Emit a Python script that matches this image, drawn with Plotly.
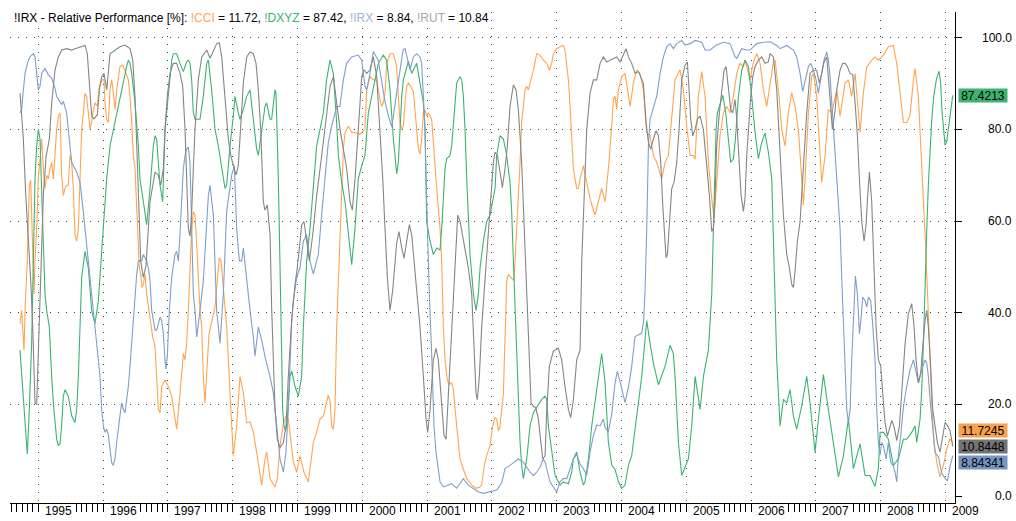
import plotly.graph_objects as go

#Datos (año decimal, valor %)
cci_t = [1994.717, 1994.743, 1994.779, 1994.800, 1994.830, 1994.861, 1994.882, 1994.897, 1994.913, 1994.933,
         1994.949, 1994.975, 1995.000, 1995.026, 1995.052, 1995.077, 1995.103, 1995.129, 1995.155, 1995.180,
         1995.206, 1995.232, 1995.257, 1995.283, 1995.309, 1995.335, 1995.360, 1995.386, 1995.412, 1995.437,
         1995.463, 1995.489, 1995.515, 1995.540, 1995.566, 1995.592, 1995.618, 1995.643, 1995.669, 1995.695,
         1995.720, 1995.746, 1995.772, 1995.798, 1995.823, 1995.849, 1995.875, 1995.911, 1995.942, 1995.983,
         1996.014, 1996.029, 1996.055, 1996.081, 1996.106, 1996.132, 1996.158, 1996.183, 1996.209, 1996.235,
         1996.260, 1996.302, 1996.338, 1996.363, 1996.389, 1996.415, 1996.441, 1996.466, 1996.492, 1996.518,
         1996.559, 1996.580, 1996.600, 1996.621, 1996.646, 1996.672, 1996.724, 1996.765, 1996.801, 1996.826,
         1996.852, 1996.878, 1996.904, 1996.955, 1997.006, 1997.058, 1997.109, 1997.135, 1997.161, 1997.186,
         1997.212, 1997.238, 1997.264, 1997.289, 1997.315, 1997.341, 1997.367, 1997.392, 1997.418, 1997.444,
         1997.469, 1997.495, 1997.521, 1997.546, 1997.572, 1997.634, 1997.726, 1997.793, 1997.819, 1997.855,
         1997.907, 1997.958, 1998.009, 1998.061, 1998.112, 1998.164, 1998.215, 1998.267, 1998.318, 1998.369,
         1998.421, 1998.447, 1998.498, 1998.524, 1998.575, 1998.652, 1998.688, 1998.730, 1998.781, 1998.822,
         1998.858, 1998.894, 1998.935, 1998.987, 1999.038, 1999.100, 1999.167, 1999.244, 1999.295, 1999.347,
         1999.398, 1999.424, 1999.475, 1999.501, 1999.527, 1999.553, 1999.578, 1999.604, 1999.630, 1999.655,
         1999.681, 1999.707, 1999.733, 1999.784, 1999.835, 1999.887, 1999.964, 2000.041, 2000.067, 2000.118,
         2000.170, 2000.221, 2000.273, 2000.299, 2000.324, 2000.350, 2000.376, 2000.427, 2000.478, 2000.530,
         2000.556, 2000.582, 2000.608, 2000.633, 2000.659, 2000.685, 2000.710, 2000.746, 2000.788, 2000.813,
         2000.839, 2000.865, 2000.890, 2000.916, 2000.942, 2000.968, 2000.993, 2001.019, 2001.070, 2001.096,
         2001.122, 2001.148, 2001.199, 2001.225, 2001.251, 2001.276, 2001.312, 2001.343, 2001.379, 2001.405,
         2001.456, 2001.508, 2001.559, 2001.611, 2001.688, 2001.755, 2001.806, 2001.842, 2001.878, 2001.919,
         2001.971, 2002.012, 2002.048, 2002.074, 2002.100, 2002.125, 2002.177, 2002.202, 2002.228, 2002.254,
         2002.290, 2002.341, 2002.372, 2002.408, 2002.434, 2002.459, 2002.485, 2002.511, 2002.537, 2002.562,
         2002.588, 2002.640, 2002.691, 2002.742, 2002.794, 2002.845, 2002.886, 2002.922, 2002.948, 2002.999,
         2003.051, 2003.102, 2003.128, 2003.154, 2003.180, 2003.206, 2003.231, 2003.257, 2003.283, 2003.308,
         2003.334, 2003.360, 2003.411, 2003.463, 2003.514, 2003.591, 2003.643, 2003.694, 2003.746, 2003.797,
         2003.849, 2003.874, 2003.900, 2003.926, 2003.952, 2004.003, 2004.054, 2004.106, 2004.132, 2004.183,
         2004.234, 2004.286, 2004.337, 2004.389, 2004.440, 2004.492, 2004.543, 2004.620, 2004.672, 2004.723,
         2004.775, 2004.826, 2004.903, 2004.955, 2005.006, 2005.058, 2005.109, 2005.135, 2005.186, 2005.237,
         2005.289, 2005.340, 2005.392, 2005.428, 2005.469, 2005.520, 2005.572, 2005.623, 2005.675, 2005.726,
         2005.778, 2005.829, 2005.881, 2005.906, 2005.958, 2005.984, 2006.035, 2006.087, 2006.138, 2006.189,
         2006.241, 2006.292, 2006.344, 2006.370, 2006.421, 2006.472, 2006.523, 2006.575, 2006.626, 2006.678,
         2006.729, 2006.781, 2006.806, 2006.832, 2006.884, 2006.935, 2006.961, 2007.012, 2007.064, 2007.089,
         2007.141, 2007.192, 2007.244, 2007.321, 2007.372, 2007.449, 2007.501, 2007.552, 2007.604, 2007.655,
         2007.681, 2007.732, 2007.784, 2007.861, 2007.912, 2007.964, 2008.041, 2008.118, 2008.195, 2008.247,
         2008.298, 2008.350, 2008.401, 2008.452, 2008.504, 2008.530, 2008.581, 2008.633, 2008.684, 2008.720,
         2008.751, 2008.787, 2008.823, 2008.864, 2008.915, 2008.967, 2009.019, 2009.070, 2009.111]
cci_v = [37.6, 40.5, 31.8, 42.6, 51.3, 67.8, 68.9, 61.3, 51.3, 44.1,
         51.3, 58.4, 69.2, 74.3, 77.9, 71.4, 67.1, 70.0, 69.2, 71.4,
         72.8, 69.2, 74.3, 80.0, 82.9, 83.6, 70.0, 65.6, 67.1, 67.8,
         67.8, 74.3, 72.8, 67.1, 57.0, 55.6, 58.4, 69.2, 80.0, 83.6,
         87.9, 87.2, 82.9, 80.0, 81.5, 84.3, 85.8, 85.1, 89.4, 90.8,
         90.8, 85.8, 82.2, 81.5, 88.6, 90.8, 87.9, 84.3, 88.6, 90.8,
         93.7, 94.0, 92.9, 91.9, 90.8, 87.2, 81.5, 74.3, 71.4, 64.2,
         49.8, 48.4, 45.5, 46.2, 48.4, 44.1, 39.0, 34.7, 32.6, 26.1,
         18.9, 18.2, 23.9, 25.4, 23.9, 21.8, 16.8, 14.6, 18.2, 22.5,
         26.8, 31.1, 29.7, 33.3, 40.5, 49.8, 58.4, 62.0, 61.3, 54.9,
         47.7, 40.5, 36.9, 26.1, 20.3, 35.4, 41.2, 52.0, 51.3, 45.5,
         36.9, 22.5, 8.8, 15.3, 26.1, 22.5, 16.0, 16.2, 13.9, 9.6,
         4.5, 2.4, 8.1, 9.6, 3.8, 2.0, 3.8, 11.0, 15.7, 17.5,
         16.8, 12.0, 7.6, 5.2, 8.8, 5.2, 3.1, 11.7, 13.9, 16.8,
         17.5, 19.0, 22.0, 20.8, 15.3, 14.6, 18.9, 36.9, 47.7, 58.4,
         67.8, 75.7, 79.3, 80.7, 79.3, 79.3, 78.9, 80.0, 88.6, 91.5,
         90.8, 90.8, 86.5, 85.0, 85.8, 87.9, 94.4, 96.5, 96.5, 93.7,
         87.2, 81.5, 80.0, 80.7, 85.8, 89.4, 90.1, 89.4, 88.2, 83.6,
         79.3, 75.7, 74.6, 77.9, 83.6, 84.3, 82.9, 83.6, 82.2, 76.4,
         72.8, 67.1, 58.4, 51.3, 36.9, 29.7, 25.2, 24.4, 24.7, 23.2,
         15.3, 8.1, 5.9, 3.8, 2.4, 1.7, 1.9, 2.4, 6.3, 8.9,
         11.0, 15.3, 17.1, 16.8, 14.2, 15.3, 22.4, 36.9, 46.9, 48.4,
         47.7, 47.0, 54.9, 64.2, 72.8, 81.5, 85.8, 88.6, 89.4, 88.6,
         90.1, 92.9, 96.5, 96.2, 95.1, 94.4, 92.9, 94.4, 96.5, 97.6,
         98.0, 98.3, 97.3, 94.4, 90.8, 85.0, 76.4, 71.4, 69.2, 67.1,
         67.1, 69.2, 72.1, 68.5, 64.9, 61.3, 64.2, 67.1, 64.2, 71.4,
         80.7, 86.5, 87.2, 84.3, 88.6, 91.5, 92.2, 87.2, 85.0, 90.1,
         93.0, 92.2, 88.6, 79.3, 78.6, 74.3, 72.8, 69.2, 72.8, 74.3,
         82.9, 90.8, 93.0, 88.6, 80.7, 74.3, 74.3, 73.5, 87.2, 92.6,
         87.2, 72.8, 64.9, 60.5, 68.5, 78.6, 83.6, 85.0, 83.6, 87.2,
         92.2, 94.4, 93.7, 95.1, 92.2, 90.8, 94.7, 96.5, 94.4, 88.6,
         85.0, 90.1, 94.7, 95.1, 88.6, 80.0, 76.4, 83.6, 88.0, 85.0,
         80.0, 69.2, 63.5, 69.2, 83.6, 91.5, 92.2, 87.2, 72.8, 68.5,
         74.3, 84.3, 83.6, 88.6, 82.9, 90.1, 90.8, 87.2, 92.2, 83.6,
         79.3, 87.9, 93.6, 95.1, 95.8, 95.1, 96.2, 98.0, 98.3, 94.4,
         87.2, 81.5, 81.5, 83.0, 90.8, 93.3, 87.2, 72.8, 57.0, 45.0,
         33.0, 20.0, 11.7, 7.4, 4.2, 6.7, 10.3, 12.5, 11.72]

dxyz_t = [1994.717, 1994.769, 1994.795, 1994.830, 1994.861, 1994.882, 1994.897, 1994.913, 1994.933, 1994.949,
          1994.975, 1995.000, 1995.026, 1995.052, 1995.077, 1995.103, 1995.129, 1995.170, 1995.206, 1995.232,
          1995.283, 1995.309, 1995.335, 1995.360, 1995.386, 1995.412, 1995.463, 1995.515, 1995.566, 1995.592,
          1995.618, 1995.643, 1995.669, 1995.720, 1995.772, 1995.823, 1995.875, 1995.926, 1995.978, 1996.029,
          1996.055, 1996.106, 1996.158, 1996.209, 1996.260, 1996.312, 1996.363, 1996.389, 1996.415, 1996.441,
          1996.466, 1996.492, 1996.544, 1996.569, 1996.621, 1996.672, 1996.724, 1996.775, 1996.801, 1996.826,
          1996.878, 1996.919, 1996.955, 1997.006, 1997.058, 1997.084, 1997.135, 1997.186, 1997.238, 1997.289,
          1997.315, 1997.341, 1997.367, 1997.392, 1997.418, 1997.495, 1997.546, 1997.598, 1997.624, 1997.675,
          1997.727, 1997.778, 1997.829, 1997.881, 1997.906, 1997.958, 1998.009, 1998.035, 1998.087, 1998.112,
          1998.164, 1998.215, 1998.267, 1998.318, 1998.369, 1998.395, 1998.447, 1998.498, 1998.524, 1998.575,
          1998.601, 1998.652, 1998.668, 1998.688, 1998.704, 1998.719, 1998.730, 1998.745, 1998.755, 1998.771,
          1998.791, 1998.817, 1998.843, 1998.884, 1998.910, 1998.961, 1999.013, 1999.064, 1999.090, 1999.115,
          1999.141, 1999.193, 1999.244, 1999.295, 1999.347, 1999.398, 1999.449, 1999.501, 1999.553, 1999.578,
          1999.604, 1999.630, 1999.681, 1999.733, 1999.784, 1999.836, 1999.887, 1999.938, 1999.990, 2000.041,
          2000.093, 2000.144, 2000.196, 2000.247, 2000.324, 2000.376, 2000.427, 2000.479, 2000.530, 2000.556,
          2000.582, 2000.608, 2000.633, 2000.710, 2000.762, 2000.813, 2000.839, 2000.890, 2000.942, 2000.968,
          2000.983, 2000.993, 2001.045, 2001.096, 2001.148, 2001.199, 2001.225, 2001.251, 2001.276, 2001.302,
          2001.353, 2001.379, 2001.405, 2001.431, 2001.456, 2001.508, 2001.534, 2001.559, 2001.585, 2001.611,
          2001.636, 2001.662, 2001.714, 2001.755, 2001.791, 2001.817, 2001.868, 2001.919, 2001.971, 2002.022,
          2002.048, 2002.074, 2002.125, 2002.177, 2002.228, 2002.279, 2002.305, 2002.331, 2002.357, 2002.382,
          2002.408, 2002.434, 2002.459, 2002.485, 2002.537, 2002.588, 2002.640, 2002.717, 2002.768, 2002.820,
          2002.845, 2002.871, 2002.922, 2002.974, 2003.051, 2003.102, 2003.180, 2003.231, 2003.257, 2003.308,
          2003.360, 2003.411, 2003.437, 2003.489, 2003.540, 2003.591, 2003.643, 2003.694, 2003.746, 2003.797,
          2003.849, 2003.900, 2003.952, 2004.003, 2004.054, 2004.106, 2004.157, 2004.209, 2004.260, 2004.312,
          2004.363, 2004.389, 2004.440, 2004.492, 2004.569, 2004.620, 2004.672, 2004.749, 2004.800, 2004.826,
          2004.852, 2004.878, 2004.929, 2004.980, 2005.032, 2005.083, 2005.135, 2005.212, 2005.264, 2005.340,
          2005.366, 2005.392, 2005.418, 2005.433, 2005.443, 2005.459, 2005.479, 2005.510, 2005.562, 2005.608,
          2005.660, 2005.685, 2005.726, 2005.757, 2005.804, 2005.855, 2005.906, 2005.958, 2006.009, 2006.061,
          2006.112, 2006.163, 2006.215, 2006.266, 2006.318, 2006.343, 2006.369, 2006.395, 2006.446, 2006.498,
          2006.549, 2006.601, 2006.652, 2006.703, 2006.781, 2006.858, 2006.909, 2006.986, 2007.038, 2007.115,
          2007.192, 2007.269, 2007.347, 2007.424, 2007.501, 2007.578, 2007.681, 2007.758, 2007.835, 2007.912,
          2007.964, 2007.990, 2008.041, 2008.118, 2008.195, 2008.272, 2008.350, 2008.401, 2008.478, 2008.530,
          2008.555, 2008.607, 2008.633, 2008.658, 2008.684, 2008.710, 2008.735, 2008.761, 2008.787, 2008.820,
          2008.860, 2008.900, 2008.925, 2008.945, 2008.970, 2008.993, 2009.020, 2009.050, 2009.080, 2009.111]
dxyz_v = [31.8, 20.3, 15.3, 9.2, 18.9, 26.1, 33.3, 44.1, 58.4, 69.2,
          76.4, 80.0, 77.9, 65.6, 51.3, 44.1, 40.5, 36.9, 26.1, 20.3,
          12.4, 11.0, 11.4, 15.3, 21.8, 23.2, 21.8, 17.5, 16.0, 18.9,
          26.1, 36.9, 47.7, 53.4, 49.8, 40.5, 37.6, 42.6, 52.7, 62.0,
          69.2, 76.4, 80.0, 83.6, 87.2, 90.8, 93.7, 95.1, 94.4, 92.2,
          88.6, 85.8, 76.4, 69.2, 64.2, 59.2, 67.1, 76.4, 78.6, 77.9,
          67.8, 64.2, 80.0, 87.2, 95.1, 96.5, 96.5, 94.4, 92.6, 94.7,
          95.1, 94.4, 90.8, 83.6, 82.2, 82.2, 87.2, 94.4, 95.1, 88.6,
          80.0, 76.4, 71.4, 67.1, 67.8, 76.4, 82.9, 87.2, 83.6, 82.2,
          84.3, 87.2, 88.6, 82.2, 75.7, 74.3, 80.0, 85.0, 85.8, 82.2,
          82.2, 88.6, 87.9, 80.0, 69.2, 58.4, 47.7, 36.9, 26.1, 18.9,
          15.3, 14.2, 16.8, 26.1, 27.3, 23.9, 21.8, 26.1, 36.9, 45.5,
          51.3, 58.4, 67.1, 76.4, 80.0, 83.6, 90.8, 95.1, 92.2, 87.2,
          81.4, 74.3, 68.5, 64.2, 57.0, 50.5, 58.4, 69.2, 72.1, 74.3,
          83.6, 87.2, 91.5, 94.4, 96.2, 95.1, 88.6, 77.9, 70.3, 72.8,
          80.0, 87.2, 90.8, 94.8, 92.2, 93.7, 94.4, 90.1, 85.8, 80.0,
          69.2, 59.9, 55.6, 52.7, 54.1, 53.7, 58.4, 65.6, 71.4, 73.6,
          74.3, 76.4, 81.4, 85.8, 90.1, 91.5, 90.8, 87.2, 80.0, 69.2,
          62.0, 52.7, 44.1, 40.5, 44.1, 49.8, 55.6, 59.9, 61.3, 65.6,
          67.1, 74.3, 78.6, 77.9, 74.3, 68.5, 62.0, 51.3, 40.5, 29.7,
          18.9, 11.7, 6.7, 3.8, 8.1, 15.3, 18.2, 19.9, 21.1, 21.8,
          21.1, 15.3, 10.3, 4.5, 2.4, 3.1, 2.7, 5.2, 8.1, 9.6,
          5.2, 2.4, 3.1, 8.1, 15.3, 20.3, 26.1, 31.1, 24.7, 11.7,
          6.7, 5.8, 3.1, 1.7, 2.4, 6.7, 8.8, 15.3, 20.3, 26.1,
          33.3, 38.3, 33.3, 29.0, 24.3, 26.1, 28.3, 32.9, 31.1, 26.1,
          18.9, 11.7, 4.5, 6.3, 8.1, 15.3, 26.1, 18.9, 26.1, 31.8,
          36.9, 44.1, 58.4, 65.6, 72.8, 80.0, 83.6, 85.0, 87.4, 83.6,
          76.4, 72.8, 73.5, 77.9, 87.2, 92.9, 95.1, 93.7, 87.2, 79.3,
          73.6, 77.1, 79.2, 75.0, 69.2, 58.0, 46.0, 29.7, 15.3, 21.1,
          20.3, 23.2, 17.5, 14.6, 19.7, 26.1, 20.3, 9.6, 16.8, 26.5,
          18.9, 11.7, 4.2, 8.8, 16.8, 6.0, 11.4, 4.5, 4.5, 2.1,
          6.1, 13.9, 13.9, 12.4, 6.7, 8.1, 12.4, 12.4, 13.9, 15.3,
          11.7, 16.8, 23.3, 33.0, 47.0, 58.0, 68.0, 76.0, 82.0, 87.5,
          91.0, 92.7, 90.0, 84.0, 79.4, 76.5, 77.5, 81.0, 85.0, 87.42]

irx_t = [1994.717, 1994.743, 1994.769, 1994.795, 1994.820, 1994.846, 1994.872, 1994.923, 1994.949, 1994.975,
         1995.000, 1995.026, 1995.052, 1995.103, 1995.155, 1995.206, 1995.257, 1995.283, 1995.335, 1995.360,
         1995.386, 1995.437, 1995.463, 1995.489, 1995.515, 1995.566, 1995.592, 1995.643, 1995.669, 1995.695,
         1995.720, 1995.746, 1995.798, 1995.849, 1995.900, 1995.952, 1995.978, 1996.003, 1996.029, 1996.055,
         1996.081, 1996.106, 1996.132, 1996.158, 1996.183, 1996.209, 1996.235, 1996.260, 1996.286, 1996.312,
         1996.338, 1996.363, 1996.389, 1996.415, 1996.441, 1996.466, 1996.492, 1996.518, 1996.544, 1996.595,
         1996.621, 1996.672, 1996.698, 1996.724, 1996.749, 1996.801, 1996.826, 1996.852, 1996.878, 1996.904,
         1996.929, 1996.955, 1996.970, 1996.991, 1997.022, 1997.058, 1997.109, 1997.135, 1997.161, 1997.186,
         1997.212, 1997.238, 1997.264, 1997.289, 1997.315, 1997.341, 1997.367, 1997.392, 1997.418, 1997.444,
         1997.495, 1997.546, 1997.624, 1997.649, 1997.701, 1997.752, 1997.804, 1997.855, 1997.906, 1997.984,
         1998.025, 1998.061, 1998.102, 1998.138, 1998.164, 1998.215, 1998.267, 1998.318, 1998.344, 1998.395,
         1998.447, 1998.498, 1998.575, 1998.627, 1998.678, 1998.730, 1998.781, 1998.822, 1998.858, 1998.884,
         1998.910, 1998.935, 1998.987, 1999.038, 1999.090, 1999.141, 1999.192, 1999.244, 1999.321, 1999.372,
         1999.424, 1999.475, 1999.527, 1999.604, 1999.655, 1999.707, 1999.758, 1999.836, 1999.938, 1999.990,
         2000.041, 2000.067, 2000.119, 2000.170, 2000.247, 2000.299, 2000.350, 2000.401, 2000.455, 2000.530,
         2000.582, 2000.630, 2000.659, 2000.736, 2000.788, 2000.839, 2000.890, 2000.916, 2000.942, 2000.968,
         2000.983, 2001.004, 2001.034, 2001.070, 2001.106, 2001.137, 2001.173, 2001.199, 2001.251, 2001.328,
         2001.379, 2001.456, 2001.508, 2001.559, 2001.636, 2001.714, 2001.791, 2001.868, 2001.971, 2002.074,
         2002.151, 2002.202, 2002.279, 2002.357, 2002.408, 2002.485, 2002.588, 2002.640, 2002.691, 2002.742,
         2002.794, 2002.820, 2002.845, 2002.896, 2002.948, 2002.999, 2003.051, 2003.102, 2003.154, 2003.206,
         2003.257, 2003.308, 2003.360, 2003.411, 2003.463, 2003.514, 2003.566, 2003.617, 2003.669, 2003.719,
         2003.746, 2003.796, 2003.850, 2003.900, 2003.935, 2003.977, 2004.054, 2004.110, 2004.157, 2004.208,
         2004.260, 2004.310, 2004.340, 2004.363, 2004.389, 2004.415, 2004.440, 2004.492, 2004.543, 2004.595,
         2004.646, 2004.697, 2004.749, 2004.800, 2004.852, 2004.929, 2004.981, 2005.058, 2005.135, 2005.237,
         2005.289, 2005.366, 2005.469, 2005.572, 2005.675, 2005.752, 2005.778, 2005.855, 2005.932, 2005.984,
         2006.087, 2006.189, 2006.260, 2006.292, 2006.395, 2006.446, 2006.549, 2006.652, 2006.703, 2006.755,
         2006.796, 2006.832, 2006.884, 2006.920, 2006.961, 2007.002, 2007.038, 2007.089, 2007.125, 2007.167,
         2007.192, 2007.218, 2007.244, 2007.269, 2007.295, 2007.321, 2007.347, 2007.372, 2007.398, 2007.424,
         2007.449, 2007.475, 2007.501, 2007.527, 2007.552, 2007.578, 2007.609, 2007.640, 2007.671, 2007.691,
         2007.722, 2007.758, 2007.784, 2007.810, 2007.845, 2007.876, 2007.912, 2007.938, 2007.964, 2007.990,
         2008.015, 2008.041, 2008.082, 2008.118, 2008.154, 2008.195, 2008.221, 2008.247, 2008.272, 2008.308,
         2008.350, 2008.401, 2008.452, 2008.504, 2008.545, 2008.581, 2008.617, 2008.684, 2008.710, 2008.735,
         2008.761, 2008.787, 2008.838, 2008.890, 2008.941, 2008.993, 2009.029, 2009.070, 2009.111]
irx_v = [83.6, 84.3, 88.6, 92.2, 93.7, 95.1, 95.8, 96.5, 95.8, 92.2,
         88.6, 89.4, 92.2, 93.3, 91.9, 91.2, 89.0, 87.2, 85.8, 85.4,
         86.1, 83.6, 80.0, 76.4, 72.8, 71.4, 70.7, 68.5, 65.6, 62.0,
         58.4, 54.9, 47.7, 40.5, 33.3, 26.1, 18.9, 15.3, 13.9, 14.6,
         13.2, 10.4, 7.3, 6.7, 8.1, 11.7, 15.3, 17.5, 20.3, 18.9,
         18.2, 21.1, 23.9, 28.3, 33.3, 38.3, 44.1, 48.4, 51.3, 51.3,
         52.7, 51.3, 49.8, 47.0, 40.5, 36.2, 36.2, 37.6, 39.0, 38.3,
         35.4, 29.7, 27.7, 30.6, 40.5, 47.7, 52.7, 53.4, 51.3, 57.0,
         65.6, 71.4, 74.3, 75.7, 76.1, 72.8, 58.4, 44.1, 40.5, 34.7,
         40.5, 46.9, 65.6, 67.8, 61.3, 40.5, 33.3, 44.1, 62.0, 70.0,
         72.1, 58.4, 51.3, 51.3, 54.1, 47.0, 40.5, 34.7, 30.5, 36.9,
         34.0, 30.4, 26.1, 22.5, 15.3, 8.1, 5.2, 9.6, 19.0, 29.7,
         38.3, 42.6, 47.7, 49.8, 55.6, 57.0, 51.3, 48.4, 52.7, 61.3,
         69.9, 77.1, 80.7, 85.0, 85.0, 90.8, 94.4, 95.8, 96.2, 95.1,
         89.4, 88.6, 92.2, 97.0, 95.0, 90.5, 86.0, 83.0, 80.5, 88.0,
         93.0, 97.4, 97.6, 93.0, 95.8, 96.5, 95.8, 94.4, 87.2, 80.0,
         69.2, 58.4, 44.1, 31.1, 15.3, 9.6, 5.9, 3.1, 2.0, 2.5,
         2.7, 1.7, 2.7, 3.8, 2.4, 1.7, 0.9, 0.6, 0.9, 1.3,
         2.9, 6.0, 6.7, 7.6, 8.1, 7.4, 5.2, 4.5, 5.2, 6.3,
         8.1, 7.4, 6.0, 3.1, 2.0, 0.9, 3.1, 3.8, 3.8, 6.0,
         8.1, 9.1, 7.0, 6.0, 4.5, 9.6, 13.2, 15.5, 15.3, 16.8,
         15.0, 13.9, 18.0, 24.7, 27.2, 25.0, 20.4, 24.0, 28.3, 34.8,
         35.2, 35.5, 38.0, 44.9, 58.4, 76.4, 82.2, 85.0, 87.2, 92.2,
         95.8, 98.0, 98.7, 97.6, 98.7, 99.4, 98.4, 98.7, 99.4, 99.0,
         97.3, 97.3, 98.4, 99.0, 98.7, 95.8, 95.5, 97.6, 97.3, 97.3,
         98.7, 99.0, 99.0, 99.1, 98.3, 97.6, 98.3, 97.3, 95.8, 92.2,
         88.3, 90.8, 93.7, 94.4, 92.9, 90.8, 87.9, 92.2, 95.1, 96.9,
         95.1, 91.5, 85.8, 81.4, 76.4, 71.4, 65.6, 58.4, 47.7, 36.9,
         26.1, 18.9, 16.0, 18.9, 29.7, 40.0, 48.0, 44.0, 35.4, 38.0,
         43.4, 42.6, 41.2, 43.4, 42.6, 37.5, 29.7, 18.9, 11.7, 8.9,
         11.7, 11.0, 8.1, 11.7, 7.4, 6.5, 5.2, 3.1, 8.8, 13.2,
         19.5, 23.9, 27.5, 29.7, 26.8, 24.7, 26.8, 29.7, 29.0, 26.1,
         21.1, 16.8, 9.5, 8.6, 5.0, 3.8, 3.3, 6.5, 8.84]

rut_t = [1994.718, 1994.769, 1994.806, 1994.846, 1994.883, 1994.914, 1994.949, 1994.975, 1995.015, 1995.052,
         1995.077, 1995.119, 1995.170, 1995.207, 1995.258, 1995.309, 1995.361, 1995.438, 1995.515, 1995.566,
         1995.644, 1995.721, 1995.756, 1995.787, 1995.824, 1995.860, 1995.911, 1995.942, 1995.978, 1996.014,
         1996.056, 1996.106, 1996.184, 1996.261, 1996.338, 1996.415, 1996.457, 1996.492, 1996.528, 1996.559,
         1996.580, 1996.620, 1996.662, 1996.724, 1996.801, 1996.852, 1996.889, 1996.929, 1996.955, 1996.991,
         1997.032, 1997.083, 1997.136, 1997.187, 1997.228, 1997.264, 1997.290, 1997.315, 1997.341, 1997.367,
         1997.392, 1997.418, 1997.469, 1997.522, 1997.599, 1997.650, 1997.753, 1997.793, 1997.830, 1997.881,
         1997.932, 1997.969, 1998.009, 1998.051, 1998.086, 1998.123, 1998.164, 1998.216, 1998.267, 1998.318,
         1998.360, 1998.395, 1998.432, 1998.472, 1998.498, 1998.534, 1998.576, 1998.602, 1998.627, 1998.653,
         1998.688, 1998.730, 1998.781, 1998.823, 1998.858, 1998.910, 1998.961, 1998.997, 1999.039, 1999.065,
         1999.100, 1999.131, 1999.182, 1999.235, 1999.296, 1999.373, 1999.451, 1999.502, 1999.553, 1999.605,
         1999.656, 1999.759, 1999.810, 1999.846, 1999.887, 1999.938, 1999.991, 2000.026, 2000.068, 2000.119,
         2000.170, 2000.222, 2000.273, 2000.315, 2000.350, 2000.386, 2000.427, 2000.468, 2000.530, 2000.566,
         2000.608, 2000.644, 2000.685, 2000.726, 2000.762, 2000.798, 2000.839, 2000.890, 2000.942, 2000.983,
         2001.009, 2001.045, 2001.096, 2001.137, 2001.173, 2001.225, 2001.261, 2001.292, 2001.328, 2001.379,
         2001.431, 2001.472, 2001.508, 2001.559, 2001.636, 2001.688, 2001.724, 2001.755, 2001.775, 2001.806,
         2001.842, 2001.894, 2001.945, 2001.981, 2002.022, 2002.048, 2002.084, 2002.125, 2002.161, 2002.202,
         2002.238, 2002.279, 2002.331, 2002.372, 2002.408, 2002.459, 2002.511, 2002.562, 2002.604, 2002.640,
         2002.676, 2002.717, 2002.753, 2002.784, 2002.820, 2002.845, 2002.886, 2002.948, 2003.025, 2003.077,
         2003.128, 2003.180, 2003.216, 2003.257, 2003.308, 2003.360, 2003.386, 2003.411, 2003.463, 2003.514,
         2003.566, 2003.617, 2003.669, 2003.720, 2003.772, 2003.823, 2003.874, 2003.926, 2003.977, 2004.029,
         2004.070, 2004.106, 2004.157, 2004.209, 2004.260, 2004.337, 2004.379, 2004.415, 2004.451, 2004.492,
         2004.533, 2004.569, 2004.605, 2004.636, 2004.661, 2004.687, 2004.708, 2004.739, 2004.775, 2004.811,
         2004.852, 2004.888, 2004.929, 2004.980, 2005.016, 2005.042, 2005.068, 2005.099, 2005.135, 2005.171,
         2005.212, 2005.263, 2005.315, 2005.356, 2005.392, 2005.418, 2005.443, 2005.469, 2005.510, 2005.546,
         2005.582, 2005.613, 2005.649, 2005.685, 2005.716, 2005.752, 2005.778, 2005.814, 2005.845, 2005.881,
         2005.906, 2005.932, 2005.958, 2005.994, 2006.025, 2006.061, 2006.112, 2006.163, 2006.215, 2006.266,
         2006.292, 2006.343, 2006.395, 2006.446, 2006.498, 2006.549, 2006.590, 2006.626, 2006.652, 2006.678,
         2006.714, 2006.755, 2006.806, 2006.858, 2006.909, 2006.961, 2007.012, 2007.053, 2007.089, 2007.125,
         2007.167, 2007.192, 2007.228, 2007.254, 2007.295, 2007.321, 2007.372, 2007.413, 2007.449, 2007.485,
         2007.527, 2007.568, 2007.604, 2007.640, 2007.671, 2007.707, 2007.743, 2007.774, 2007.799, 2007.825,
         2007.861, 2007.897, 2007.928, 2007.964, 2008.000, 2008.031, 2008.067, 2008.103, 2008.144, 2008.170,
         2008.206, 2008.247, 2008.288, 2008.324, 2008.376, 2008.427, 2008.478, 2008.514, 2008.545, 2008.581,
         2008.617, 2008.648, 2008.684, 2008.710, 2008.735, 2008.771, 2008.802, 2008.838, 2008.874, 2008.915,
         2008.957, 2008.993, 2009.029, 2009.070, 2009.111]
rut_v = [87.9, 77.9, 65.6, 57.0, 47.0, 36.9, 20.3, 20.0, 36.9, 51.0,
         65.6, 74.0, 77.9, 85.8, 93.0, 95.8, 97.3, 97.6, 97.3, 97.6,
         98.0, 98.3, 96.5, 90.8, 82.9, 82.3, 83.2, 88.6, 91.5, 92.2,
         88.6, 96.5, 97.3, 98.0, 98.4, 97.6, 95.1, 87.2, 72.8, 58.4,
         51.3, 47.7, 50.3, 64.2, 70.7, 70.0, 67.8, 71.4, 80.0, 87.2,
         92.2, 94.4, 94.4, 92.2, 89.4, 80.0, 69.2, 58.4, 56.7, 62.1,
         71.4, 80.0, 90.8, 95.8, 97.3, 95.5, 98.7, 98.9, 95.8, 87.2,
         77.9, 74.3, 72.1, 70.0, 72.1, 80.0, 90.1, 95.8, 96.9, 96.5,
         94.4, 88.6, 80.0, 64.2, 62.4, 63.5, 57.0, 40.5, 29.7, 19.0,
         12.4, 10.6, 11.7, 15.3, 26.1, 38.3, 46.2, 49.8, 55.6, 59.2,
         59.9, 57.0, 51.3, 57.0, 65.6, 74.3, 83.6, 89.4, 91.5, 85.0,
         80.0, 71.4, 64.2, 62.4, 69.2, 80.0, 91.5, 93.0, 92.2, 93.0,
         95.8, 91.5, 80.0, 69.2, 58.4, 47.7, 40.5, 44.8, 55.2, 57.7,
         54.1, 51.9, 55.6, 59.2, 57.0, 51.3, 44.1, 36.9, 26.1, 16.8,
         13.9, 18.9, 29.7, 32.2, 29.7, 18.9, 13.2, 12.4, 22.4, 36.9,
         51.3, 61.3, 59.9, 55.6, 49.8, 44.1, 33.3, 22.4, 21.0, 26.1,
         36.9, 47.7, 58.4, 64.2, 72.8, 75.0, 74.3, 70.7, 67.3, 71.4,
         76.3, 85.0, 89.7, 88.6, 84.3, 72.8, 54.8, 33.3, 20.3, 19.6,
         19.3, 16.8, 11.7, 8.1, 8.8, 18.3, 28.3, 31.6, 32.3, 29.7,
         23.9, 18.9, 17.1, 21.0, 29.7, 31.8, 51.3, 62.1, 80.0, 87.9,
         90.8, 90.8, 94.4, 95.8, 94.7, 95.1, 95.5, 95.8, 94.7, 96.5,
         97.6, 95.8, 94.4, 92.2, 92.6, 90.1, 81.4, 77.1, 75.7, 77.9,
         79.7, 78.6, 72.8, 63.5, 57.0, 52.0, 52.7, 58.4, 67.1, 68.5,
         72.8, 80.0, 90.8, 94.0, 94.7, 88.6, 82.2, 78.6, 80.0, 82.2,
         82.9, 80.0, 72.8, 65.6, 57.7, 58.4, 65.6, 76.4, 83.6, 88.6,
         92.9, 93.7, 88.6, 84.3, 83.6, 86.5, 82.2, 74.3, 65.6, 62.1,
         65.0, 74.3, 80.0, 87.2, 91.5, 93.7, 95.1, 95.8, 94.4, 94.7,
         96.5, 95.8, 88.6, 74.3, 61.3, 52.7, 49.8, 46.2, 45.5, 49.1,
         55.6, 59.9, 71.4, 83.6, 92.2, 92.9, 92.9, 90.1, 92.2, 94.7,
         95.8, 90.8, 85.0, 80.0, 84.0, 88.6, 92.9, 94.4, 94.4, 93.7,
         92.2, 91.9, 85.8, 78.6, 69.2, 59.9, 55.6, 59.2, 65.6, 70.7,
         64.2, 51.3, 36.9, 29.7, 28.3, 22.3, 15.9, 13.1, 15.1, 16.5,
         15.1, 12.1, 15.3, 22.4, 33.3, 39.8, 42.0, 37.0, 29.7, 24.7,
         26.8, 32.6, 38.3, 40.5, 36.9, 28.3, 18.9, 15.3, 11.7, 9.6,
         13.2, 16.1, 15.4, 14.2, 10.84]

#Ejes y etiquetas
years = list(range(1995, 2010))
y_ticks = [0, 20, 40, 60, 80, 100]
y_labels = ["0.0", "20.0", "40.0", "60.0", "80.0", "100.0"]

clr = {"CCI": "#FFA54F", "DXYZ": "#3CB371", "IRX": "#7F9FCB", "RUT": "#858585"}

fig = go.Figure()

series = [("!CCI", cci_t, cci_v, clr["CCI"]),
          ("!DXYZ", dxyz_t, dxyz_v, clr["DXYZ"]),
          ("!IRX", irx_t, irx_v, clr["IRX"]),
          ("!RUT", rut_t, rut_v, clr["RUT"])]
for name, tt, vv, c in series:
    fig.add_trace(go.Scatter(x=tt, y=vv, mode="lines", name=name,
                             line=dict(color=c, width=1.1), hoverinfo="skip"))

#Ticks mensuales (ago-dic) y ticks anuales
month_ticks = []
for y in range(1994, 2009):
    for m in range(8, 13):
        month_ticks.append(y + (m - 1) / 12.0)

fig.update_layout(
    width=1016, height=521,
    margin=dict(l=10, r=61, t=12, b=13),
    plot_bgcolor="white", paper_bgcolor="white",
    showlegend=False,
    font=dict(family="Liberation Sans, Arial", size=12, color="black"),
    xaxis=dict(range=[1994.563, 2009.146], tickvals=years, showticklabels=False,
               ticks="outside", ticklen=8, tickcolor="black", tickwidth=1,
               showgrid=True, gridcolor="#444444", gridwidth=1, griddash="1px,7px",
               showline=True, linecolor="black", linewidth=1, zeroline=False,
               minor=dict(tickvals=month_ticks, ticks="outside", ticklen=8,
                          tickcolor="black", showgrid=False)),
    yaxis=dict(range=[-1.51, 105.6], side="right", tickvals=y_ticks, showticklabels=False,
               ticks="outside", ticklen=6, tickcolor="black",
               showgrid=False, zeroline=False,
               showline=True, linecolor="black", linewidth=1,
               minor=dict(tickvals=[20, 40, 60, 80, 100], showgrid=True, gridcolor="#444444",
                          gridwidth=1, griddash="1px,7px", ticks="")),
)

#Linea de cero amarilla
fig.add_shape(type="line", xref="paper", x0=0, x1=1, yref="y", y0=0, y1=0,
              line=dict(color="#E0E020", width=1, dash="1px,7px"), layer="below")

#Etiquetas de años
for y in years:
    fig.add_annotation(x=y + 0.07, xref="x", y=-0.016, yref="paper", text=str(y),
                       showarrow=False, xanchor="left", yanchor="middle",
                       font=dict(size=12, color="black"))

#Etiquetas eje Y a la derecha
for v, lab in zip(y_ticks, y_labels):
    fig.add_annotation(x=1.0624, xref="paper", y=v, yref="y", text=lab,
                       showarrow=False, xanchor="right", yanchor="middle",
                       font=dict(size=12, color="black"))

#Titulo con colores
title = ("!IRX - Relative Performance [%]: "
         "<span style='color:{}'>!CCI</span> = {:.2f}, "
         "<span style='color:{}'>!DXYZ</span> = {:.2f}, "
         "<span style='color:#9DB4D6'>!IRX</span> = {:.2f}, "
         "<span style='color:#A8A8A8'>!RUT</span> = {:.2f}").format(
    clr["CCI"], cci_v[-1], clr["DXYZ"], dxyz_v[-1], irx_v[-1], rut_v[-1])
fig.add_annotation(x=0.002, xref="paper", y=0.987, yref="paper", text=title,
                   showarrow=False, xanchor="left", yanchor="middle",
                   bgcolor="white", font=dict(size=12, color="black"))

#Cajas con el ultimo valor
badges = [("87.4213", dxyz_v[-1], clr["DXYZ"]),
          ("11.7245", rut_v[-1] + 3.5, "#F7A24F"),
          ("10.8448", rut_v[-1], "#737373"),
          ("8.84341", rut_v[-1] - 3.5, "#7895C2")]
for txt, yy, bg in badges:
    fig.add_annotation(x=1.0032, xref="paper", y=yy, yref="y", text=txt,
                       showarrow=False, xanchor="left", yanchor="middle",
                       bgcolor=bg, width=48, height=13, borderpad=0,
                       font=dict(size=12, color="black"))

#Sin margen en la pagina y sin barra de herramientas
fig.write_html("out.html", config={"displayModeBar": False, "staticPlot": True},
               post_script="document.body.style.margin='0px';document.body.style.overflow='hidden';")
